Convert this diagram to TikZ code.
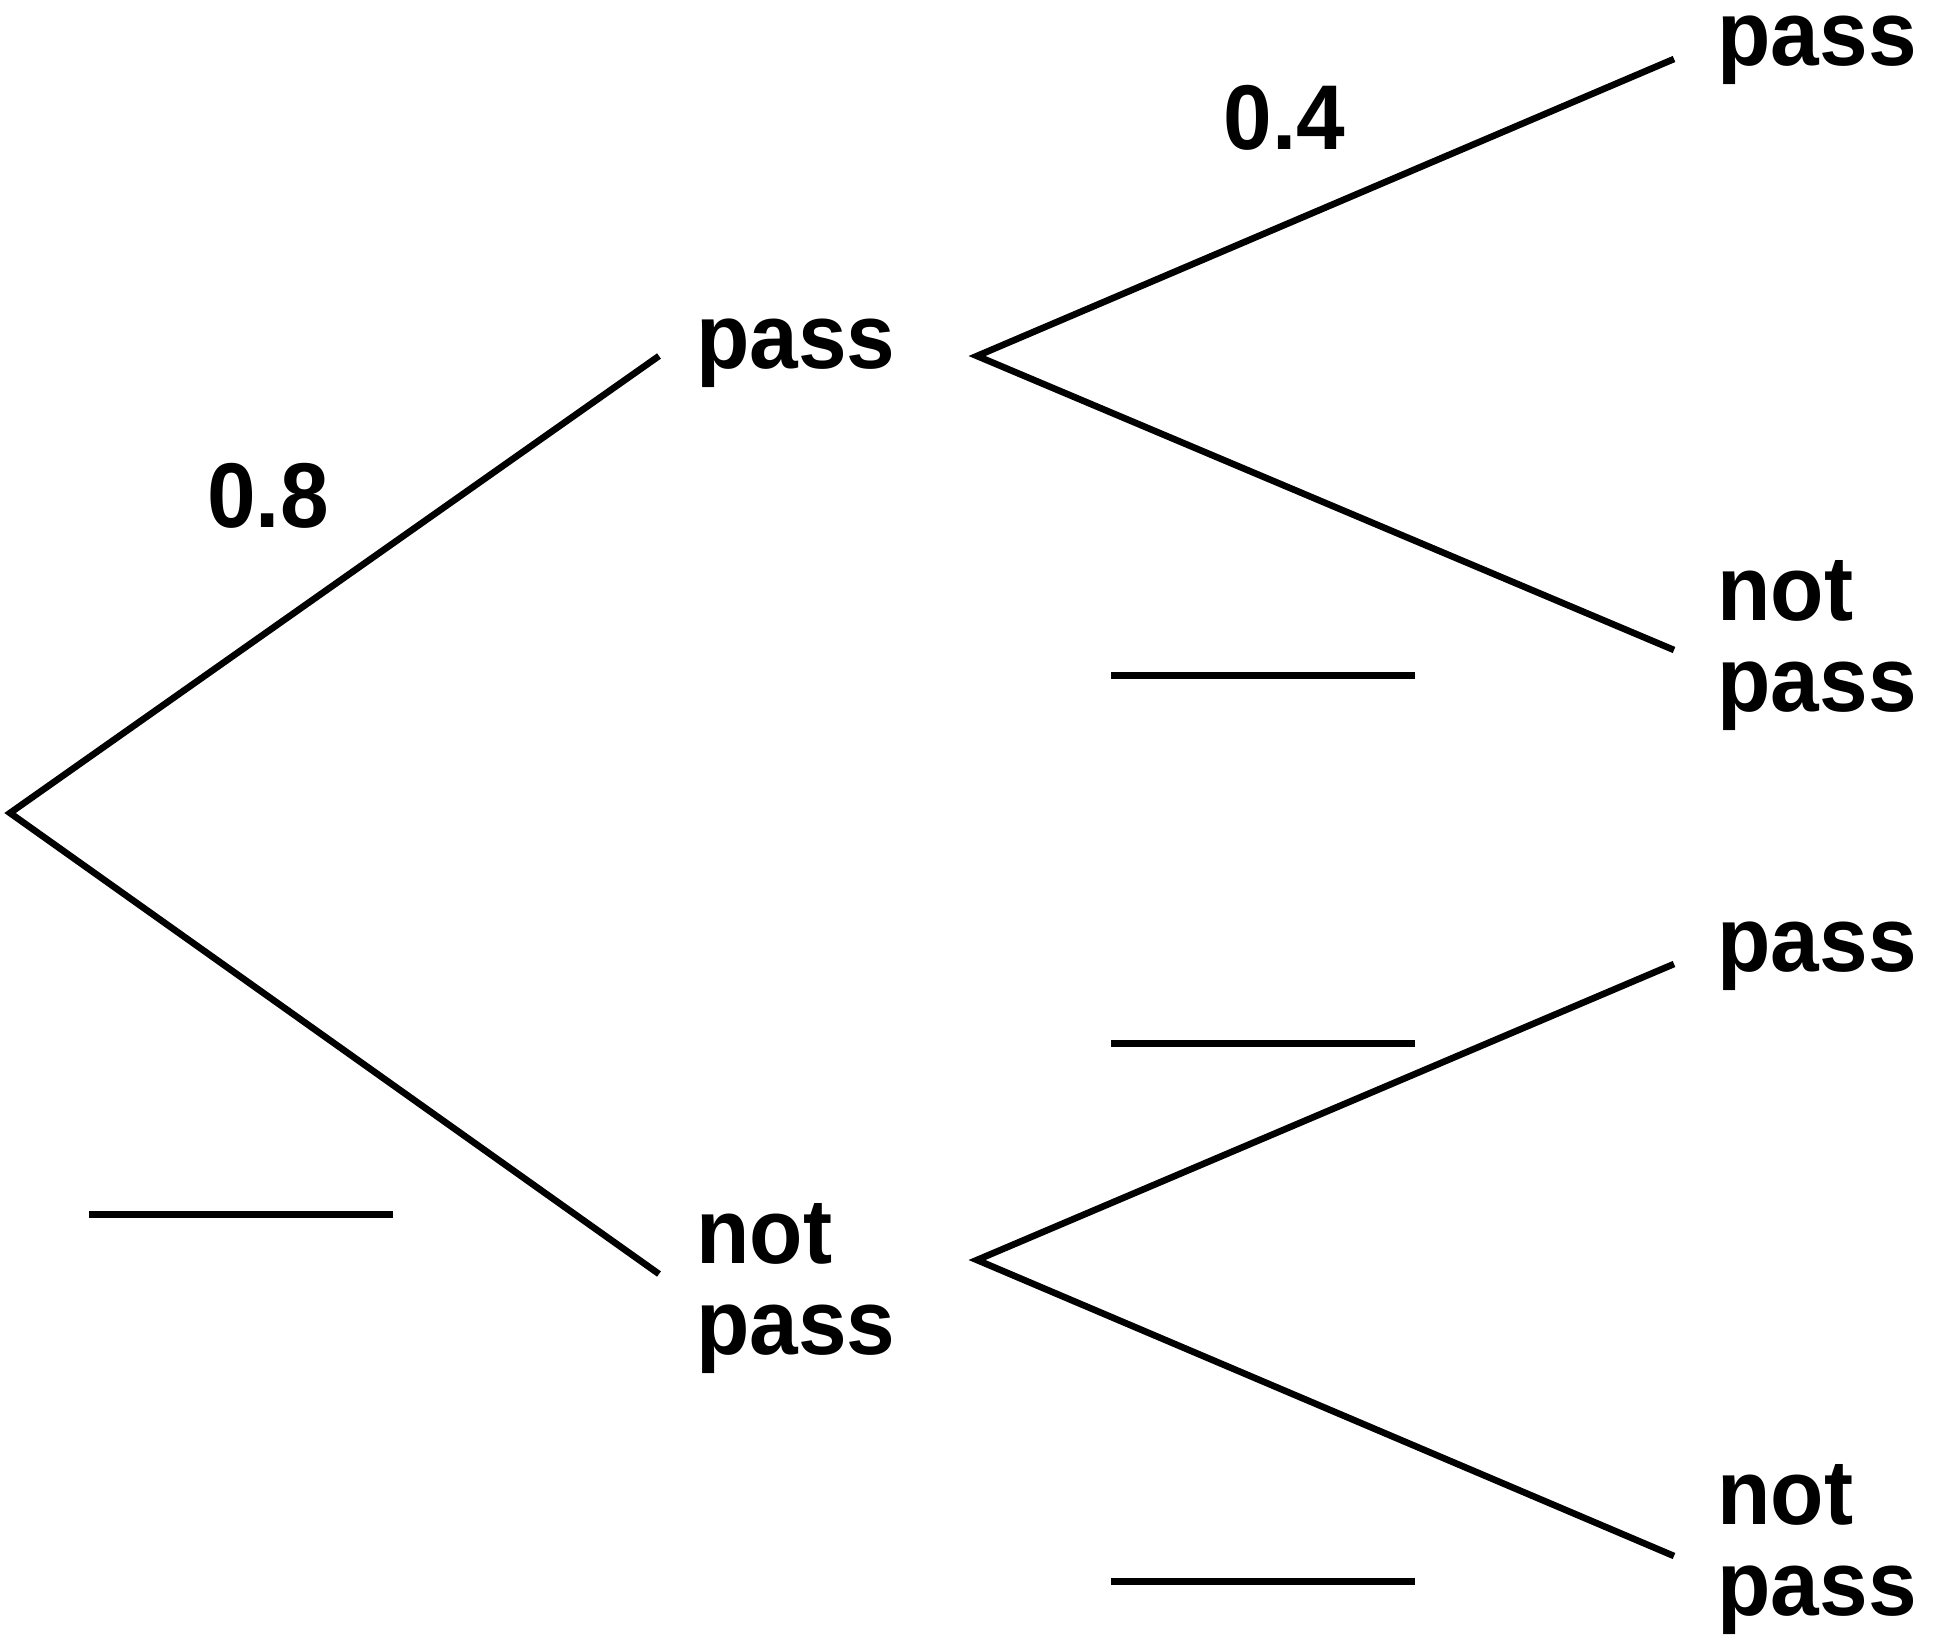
\documentclass[tikz,border=0pt]{standalone}
\usepackage{fontspec}
\setmainfont{Liberation Sans}[FakeStretch=0.95]
\begin{document}
\begin{tikzpicture}[x=0.5pt,y=-0.5pt,
  branch/.style={line width=3.3pt,line join=miter},
  blank/.style={line width=3.5pt},
  lab/.style={anchor=base west,inner sep=0pt,align=left,font=\fontsize{46}{45.5}\selectfont\bfseries}]
\useasboundingbox (0,0) rectangle (1955,1642);
% junction points
\coordinate (root) at (10,813);
\coordinate (uEnd) at (659,356);
\coordinate (lEnd) at (659,1274);
\coordinate (uJ) at (977,356);
\coordinate (lJ) at (977,1260);
\coordinate (uuEnd) at (1674,59);
\coordinate (ulEnd) at (1674,650);
\coordinate (luEnd) at (1674,964);
\coordinate (llEnd) at (1674,1556);
% labels (base anchor = baseline of last line)
\node[lab] (pass1) at (696,369) {pass};
\node[lab] (notpass1) at (696,1354) {not\\pass};
\node[lab,text height=0.55em] (pass2) at (1717,66) {pass};
\node[lab] (notpass2) at (1717,711) {not\\pass};
\node[lab] (pass3) at (1717,971) {pass};
\node[lab] (notpass3) at (1717,1615) {not\\pass};
\node[lab] (p08) at (207,528) {0.8};
\node[lab] (p04) at (1223,150) {0.4};
% branches
\draw[branch] (uEnd) -- (root) -- (lEnd);
\draw[branch] (uuEnd) -- (uJ) -- (ulEnd);
\draw[branch] (luEnd) -- (lJ) -- (llEnd);
% blanks
\coordinate (b1a) at (1111,675); \coordinate (b1b) at (1415,675);
\coordinate (b2a) at (1111,1043); \coordinate (b2b) at (1415,1043);
\coordinate (b3a) at (89,1214); \coordinate (b3b) at (393,1214);
\coordinate (b4a) at (1111,1581); \coordinate (b4b) at (1415,1581);
\draw[blank] (b1a) -- (b1b);
\draw[blank] (b2a) -- (b2b);
\draw[blank] (b3a) -- (b3b);
\draw[blank] (b4a) -- (b4b);
\end{tikzpicture}
\end{document}
